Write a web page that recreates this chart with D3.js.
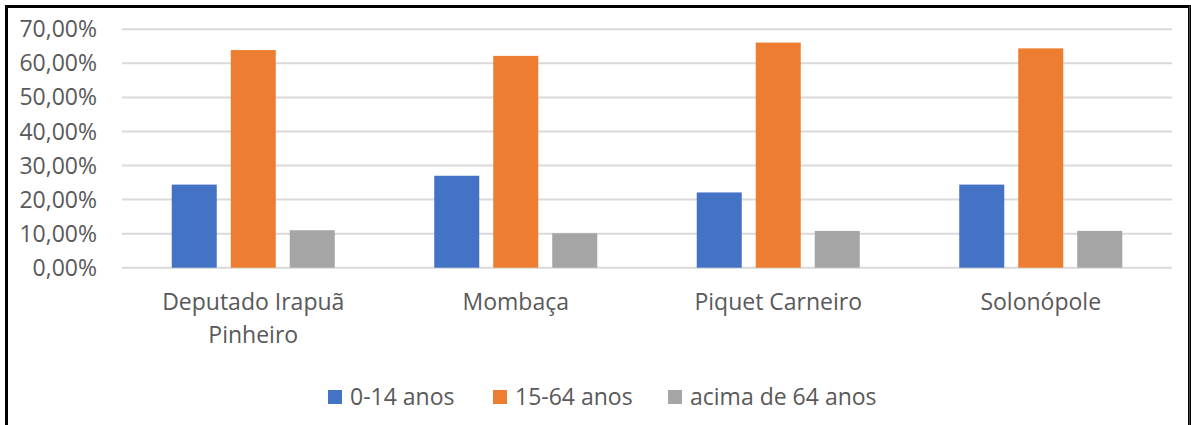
<!DOCTYPE html>
<html>
<head>
<meta charset="utf-8">
<script src="https://cdn.jsdelivr.net/npm/d3@7"></script>
<style>
  body { margin: 0; background: #fff; }
  svg { display: block; font-family: "Segoe UI", "Open Sans", sans-serif; }
</style>
</head>
<body>
<script>
const width = 1191
const height = 425

const categories = ['Deputado Irapuã Pinheiro', 'Mombaça', 'Piquet Carneiro', 'Solonópole']
const series = ['0-14 anos', '15-64 anos', 'acima de 64 anos']
const young = [24.4, 27.0, 22.1, 24.4]
const adult = [63.9, 62.2, 66.1, 64.4]
const old = [11.0, 10.1, 10.8, 10.8]
const yTicks = [0, 10, 20, 30, 40, 50, 60, 70]

const values = [young, adult, old]
const colors = ['#4472C4', '#ED7D31', '#A5A5A5']

const margin = {left: 122, right: 19, top: 29, bottom: 158}

const svg = d3.select('body')
  .append('svg')
  .attr('width', width)
  .attr('height', height)

// frame
svg.append('rect')
  .attr('x', 6.5).attr('y', 6.5)
  .attr('width', 1183).attr('height', 430)
  .attr('fill', 'none')
  .attr('stroke', '#000')
  .attr('stroke-width', 3)
svg.append('line')
  .attr('x1', 1189.5).attr('x2', 1189.5)
  .attr('y1', 6).attr('y2', height)
  .attr('stroke', '#444').attr('stroke-width', 1)

const x0 = d3.scaleBand()
  .domain(categories)
  .range([margin.left, width - margin.right])

const x1 = d3.scaleBand()
  .domain(series)
  .range([0, x0.bandwidth()])
  .paddingInner(0.237)
  .paddingOuter(0.843)

const y = d3.scaleLinear()
  .domain([0, 70])
  .range([height - margin.bottom + 0.7, margin.top + 0.3])

const fmt = (v) => v.toFixed(2).replace('.', ',') + '%'

// grid
svg.append('g')
  .selectAll('line')
  .data(yTicks)
  .enter()
  .append('line')
  .attr('x1', margin.left)
  .attr('x2', width - margin.right)
  .attr('y1', (d) => y(d))
  .attr('y2', (d) => y(d))
  .attr('stroke', '#D9D9D9')
  .attr('stroke-width', 2)

// y labels
svg.append('g')
  .selectAll('text')
  .data(yTicks)
  .enter()
  .append('text')
  .attr('x', 97)
  .attr('y', (d) => y(d))
  .attr('dy', '0.35em')
  .attr('text-anchor', 'end')
  .attr('fill', '#595959')
  .style('font-size', '23px')
  .text(fmt)

// bars
const group = svg.append('g')
  .selectAll('g')
  .data(categories)
  .enter()
  .append('g')
  .attr('transform', (d) => `translate(${x0(d)},0)`)

group.selectAll('rect')
  .data((d, i) => series.map((s, j) => ({s, v: values[j][i], c: colors[j]})))
  .enter()
  .append('rect')
  .attr('x', (d) => x1(d.s))
  .attr('width', x1.bandwidth())
  .attr('y', (d) => y(d.v))
  .attr('height', (d) => y(0) - y(d.v))
  .attr('fill', (d) => d.c)

// category labels, wrapped like excel
const catLabel = svg.append('g')
  .selectAll('text')
  .data(categories)
  .enter()
  .append('text')
  .attr('x', (d) => x0(d) + x0.bandwidth() / 2)
  .attr('y', 310)
  .attr('text-anchor', 'middle')
  .attr('fill', '#595959')
  .style('font-size', '23px')

catLabel.each(function (d) {
  const el = d3.select(this)
  const words = d.split(' ')
  let line = []
  let lineNo = 0
  let tspan = el.append('tspan').attr('x', el.attr('x')).attr('dy', 0)
  for (const w of words) {
    line.push(w)
    tspan.text(line.join(' '))
    if (tspan.node().getComputedTextLength() > 200 && line.length > 1) {
      line.pop()
      tspan.text(line.join(' '))
      line = [w]
      lineNo++
      tspan = el.append('tspan').attr('x', el.attr('x')).attr('dy', 33).text(w)
    }
  }
})

// legend
const legendX = [328, 493, 668]
const legend = svg.append('g')
  .selectAll('g')
  .data(series)
  .enter()
  .append('g')
  .attr('transform', (d, i) => `translate(${legendX[i]},397)`)

legend.append('rect')
  .attr('x', 0).attr('y', -7)
  .attr('width', 14).attr('height', 14)
  .attr('fill', (d, i) => colors[i])

legend.append('text')
  .attr('x', 22)
  .attr('dy', '0.35em')
  .attr('fill', '#595959')
  .style('font-size', '23px')
  .text((d) => d)
</script>
</body>
</html>
